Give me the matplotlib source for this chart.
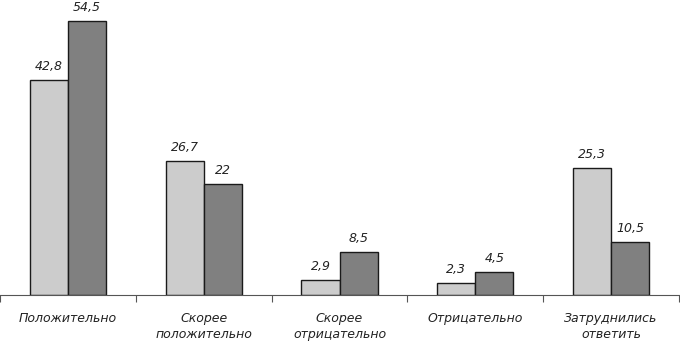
import matplotlib
matplotlib.use("Agg")
import matplotlib.pyplot as plt
import numpy as np

categories = ["Положительно", "Скорее\nположительно", "Скорее\nотрицательно",
              "Отрицательно", "Затруднились\nответить"]
series_a = [42.8, 26.7, 2.9, 2.3, 25.3]
series_b = [54.5, 22.0, 8.5, 4.5, 10.5]
labels_a = ["42,8", "26,7", "2,9", "2,3", "25,3"]
labels_b = ["54,5", "22", "8,5", "4,5", "10,5"]

fig = plt.figure(figsize=(6.8, 3.44), dpi=100)
ax = fig.add_axes([0.0, 49/344, 679/680, 295/344])

x = np.arange(len(categories)) + 0.5
w = 0.28
ax.bar(x - w/2, series_a, w, color="#cccccc", edgecolor="#1a1a1a", linewidth=1.0)
ax.bar(x + w/2, series_b, w, color="#808080", edgecolor="#1a1a1a", linewidth=1.0)

for xi, v, t in zip(x - w/2, series_a, labels_a):
    ax.annotate(t, (xi, v), xytext=(0, 5), textcoords="offset points",
                ha="center", va="bottom", fontsize=9, style="italic", color="#222222")
for xi, v, t in zip(x + w/2, series_b, labels_b):
    ax.annotate(t, (xi, v), xytext=(0, 5), textcoords="offset points",
                ha="center", va="bottom", fontsize=9, style="italic", color="#222222")

ax.set_xlim(0, len(categories))
ax.set_ylim(0, 295/5.03)
ax.set_xticks(x)
ax.set_xticklabels(categories, fontsize=9, style="italic", color="#222222", linespacing=1.35)
ax.tick_params(axis="x", which="major", length=0, pad=12)
ax.set_xticks(np.arange(len(categories) + 1), minor=True)
ax.tick_params(axis="x", which="minor", length=5, width=0.8, color="#555555", direction="out")
ax.set_yticks([])
for s in ["left", "right", "top"]:
    ax.spines[s].set_visible(False)
ax.spines["bottom"].set_color("#555555")
ax.spines["bottom"].set_linewidth(0.8)

fig.savefig("out.png", dpi=100)
